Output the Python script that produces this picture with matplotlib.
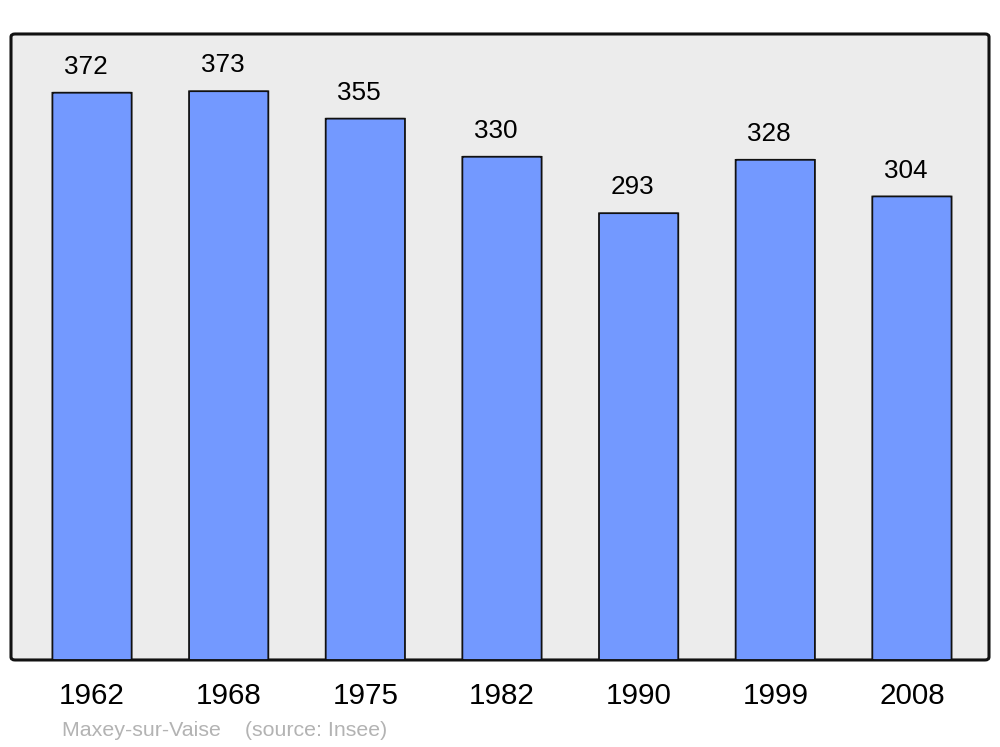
import matplotlib.pyplot as plt
from matplotlib.patches import FancyBboxPatch

years = ["1962", "1968", "1975", "1982", "1990", "1999", "2008"]
population = [372, 373, 355, 330, 293, 328, 304]

plt.rcParams['font.family'] = ['Liberation Sans', 'DejaVu Sans']

fig = plt.figure(figsize=(10, 7.47), dpi=100)

# rounded grey frame behind the plot
frame = FancyBboxPatch((0.011, 0.1165), 0.978, 0.838,
                       boxstyle="round,pad=0,rounding_size=0.004",
                       transform=fig.transFigure, facecolor='#ececec',
                       edgecolor='#111111', linewidth=2.2, zorder=-5)
fig.patches.append(frame)

ax = fig.add_axes([0.011, 0.1165, 0.978, 0.838])
ax.set_facecolor('none')
ax.set_zorder(1)

x = range(len(years))
for i, v in zip(x, population):
    bar = FancyBboxPatch((i - 0.29, 0), 0.58, v,
                         boxstyle="round,pad=0,rounding_size=0.02",
                         mutation_aspect=3,
                         facecolor='#7399ff', edgecolor='#111111',
                         linewidth=1.3, zorder=2)
    ax.add_patch(bar)
    ax.annotate(str(v), (i, v), xytext=(-4.5, 10), textcoords='offset points',
                ha='center', va='bottom', fontsize=18.8)

ax.set_xlim(-0.593, 6.564)
ax.set_ylim(0, 410.5)
ax.set_xticks(list(x))
ax.set_xticklabels(years, fontsize=21.3)
ax.tick_params(axis='x', length=0, pad=16)
ax.set_yticks([])
for s in ax.spines.values():
    s.set_visible(False)

fig.text(0.062, 0.015, "Maxey-sur-Vaise    (source: Insee)", fontsize=15.4,
         color='#b3b3b3', ha='left', va='baseline')

fig.savefig("out.png", dpi=100)
